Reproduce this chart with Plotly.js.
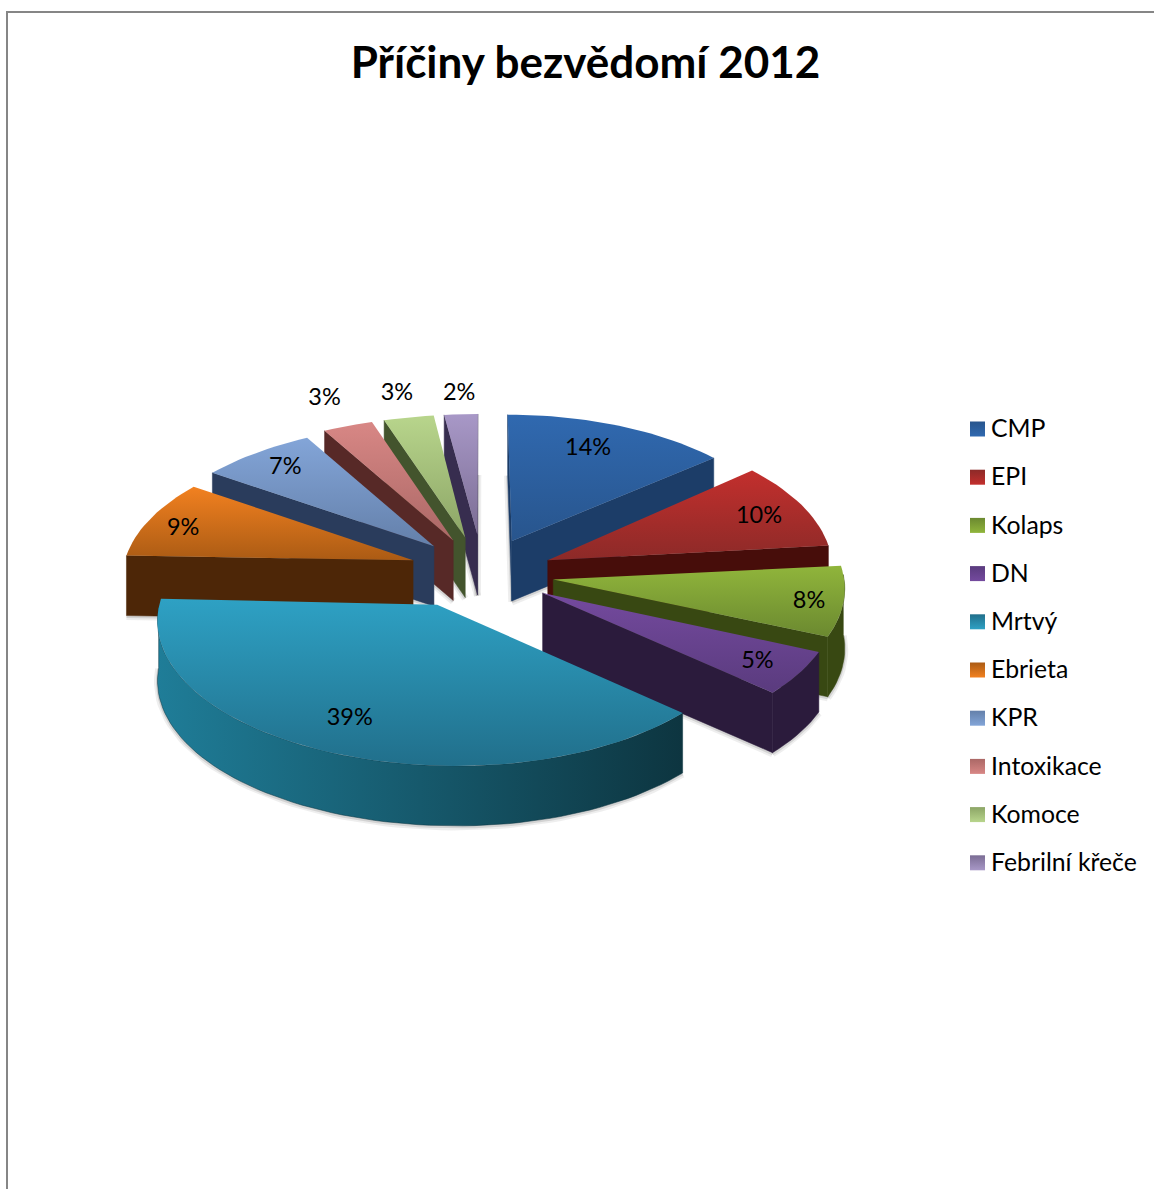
<!DOCTYPE html>
<html lang="cs">
<head>
<meta charset="utf-8">
<title>Příčiny bezvědomí 2012</title>
<script src="https://cdn.plot.ly/plotly-3.0.1.min.js"></script>
<style>html,body{margin:0;padding:0;background:#fff}#chart{width:1154px;height:1189px}</style>
</head>
<body>
<div id="chart"></div>
<script>
// Share of each cause, in percent
const categories = ["CMP","EPI","Kolaps","DN","Mrtvý","Ebrieta","KPR","Intoxikace","Komoce","Febrilní křeče"];
const shares = [14,10,8,5,39,9,7,3,3,2];

// Colours per slice: top face (upper, lower), outer walls (left, right)
const topLight = ["#3069b0","#c32f2d","#90b53b","#744a9e","#2ea1c4","#f28120","#83a5d8","#d88785","#b8d58c","#a898c7"];
const topDark  = ["#28558d","#8c2a28","#6b8930","#5a3b7e","#216f8b","#ab5b14","#6480aa","#ab6866","#8ca566","#7b6d94"];
const wallLeft  = ["#1c3d68","#470d0a","#384812","#2b1b3c","#1f7d98","#4d2607","#2a3c5c","#572927","#43542d","#372d4f"];
const wallRight = ["#1c3d68","#470d0a","#384812","#2b1b3c","#0d3540","#4d2607","#2a3c5c","#572927","#43542d","#372d4f"];

// Label placement around each slice tip: radius as a fraction of the pie, bearing in degrees
const labelRadius  = [0.81,0.84,0.885,0.83,0.78,0.86,0.85,1.29,1.25,1.21];
const labelBearing = [20.5,65.3,98.4,121.9,204.6,288.2,319.1,336.9,347.1,356.1];

// Slices are painted from the back of the pie to the front
const paintOrder = [9,8,7,6,5,0,1,2,3,4];

// View settings for the tilted pie
const centerX = 485, centerY = 575, radiusX = 285, radiusY = 140;
const perspective = 0.08, leftStretch = 1.035, explode = 0.25, thickness = 60;
const tipNudge = [[-3,-3],[-3,-2],[-2,-2],[-2,-2],[-18,-3],[-3,-3],[-3,-3],[-3,-3],[-4,-4],[-3,-6]];
const rimNudge = [[-5,-4],[-3,-8],[2,-7],[2,-6],[4,0],[1,1],[-2,0],[-3,-2],[-3,-2],[-3,-2]];
const textDrop = 2;

const rad = d => d * Math.PI / 180;
const project = (X, Y) => {
  const p = 1 / (1 + perspective * Y);
  return [centerX + radiusX * X * p * (X < 0 ? leftStretch : 1), centerY - radiusY * Y * p];
};

const total = shares.reduce((a, b) => a + b, 0);
let running = 0;
const slices = shares.map((v, i) => {
  const a0 = running / total * 360;
  running += v;
  const a1 = running / total * 360;
  const mid = (a0 + a1) / 2;
  return { i, a0, a1, mid, ox: explode * Math.sin(rad(mid)), oy: explode * Math.cos(rad(mid)) };
});

const polarPoint = (s, deg, r) => project(s.ox + r * Math.sin(rad(deg)), s.oy + r * Math.cos(rad(deg)));
const rimPoint = (s, deg) => {
  const q = polarPoint(s, deg, 1);
  return [q[0] + rimNudge[s.i][0], q[1] + rimNudge[s.i][1]];
};
const tipPoint = s => {
  const t = project(s.ox, s.oy);
  return [t[0] + tipNudge[s.i][0], t[1] + tipNudge[s.i][1]];
};
const arc = (s, from, to) => {
  const pts = [], n = Math.max(2, Math.ceil((to - from) / 2));
  for (let k = 0; k <= n; k++) pts.push(rimPoint(s, from + (to - from) * k / n));
  return pts;
};

const closed = pts => ({
  x: pts.map(p => p[0]).concat(pts[0][0]),
  y: pts.map(p => p[1]).concat(pts[0][1])
});
const polygon = (pts, fillgradient, line) => Object.assign({
  type: "scatter", mode: "lines", fill: "toself",
  fillgradient, line, hoverinfo: "skip", showlegend: false
}, closed(pts));
const shadowLine = (pts, color, width) => ({
  type: "scatter", mode: "lines",
  x: pts.map(p => p[0]), y: pts.map(p => p[1] + 1),
  line: { color, width }, hoverinfo: "skip", showlegend: false
});

const sideways = s => ({ type: "horizontal", colorscale: [[0, wallLeft[s.i]], [1, wallRight[s.i]]] });
// The y axis runs downwards, so the gradient stops are listed from the lower colour up
const downwards = s => ({ type: "vertical", colorscale: [[0, topDark[s.i]], [1, topLight[s.i]]] });
const wallEdge = s => ({ color: wallRight[s.i], width: 0.5 });
const noEdge = { color: "rgba(0,0,0,0)", width: 0 };
const dropDown = pts => pts.map(p => [p[0], p[1] + thickness]);

const traces = [];
paintOrder.forEach(idx => {
  const s = slices[idx], tip = tipPoint(s);
  const inner = polarPoint(s, s.mid, 0.5);
  const walls = [];
  // Radial walls show only when the slice lies above the edge on screen
  [s.a0, s.a1].forEach(deg => {
    const rim = rimPoint(s, deg);
    const run = rim[0] - tip[0];
    const at = Math.abs(run) < 1e-6 ? -Infinity : tip[1] + (rim[1] - tip[1]) * (inner[0] - tip[0]) / run;
    if (inner[1] < at) walls.push([tip, rim]);
  });
  // Outer wall: only the front half of the rim faces the viewer
  const from = Math.max(s.a0, 90), to = Math.min(s.a1, 270);
  if (to > from) walls.push(arc(s, from, to));
  // A soft shade along the bottom of the walls
  walls.forEach(edge => {
    const low = dropDown(edge);
    traces.push(shadowLine(low, "rgba(90,90,90,0.10)", 7));
    traces.push(shadowLine(low, "rgba(90,90,90,0.18)", 3));
  });
  walls.forEach(edge => {
    traces.push(polygon(edge.concat(dropDown(edge).reverse()), sideways(s), wallEdge(s)));
  });
  // Top face
  traces.push(polygon([tip].concat(arc(s, s.a0, s.a1)), downwards(s), noEdge));
});

// Percentage labels
const labelXY = slices.map((s, i) => polarPoint(s, labelBearing[i], labelRadius[i]));
traces.push({
  type: "scatter", mode: "text",
  x: labelXY.map(p => p[0]), y: labelXY.map(p => p[1] + textDrop),
  text: shares.map(v => v + "%"),
  textposition: "middle center",
  textfont: { family: "Lato, sans-serif", size: 23.5, color: "#000" },
  hoverinfo: "skip", showlegend: false
});

// Key on the right: coloured squares with a name beside each
const keyX = 977.5, keyTop = 429, keyStep = 48.2;
const keyY = categories.map((c, i) => keyTop + i * keyStep);
traces.push({
  type: "scatter", mode: "markers",
  x: categories.map(() => keyX), y: keyY,
  marker: {
    symbol: "square", size: 15, color: topDark,
    gradient: { type: "vertical", color: topLight }, line: { width: 0 }
  },
  hoverinfo: "skip", showlegend: false
});
traces.push({
  type: "scatter", mode: "text",
  x: categories.map(() => 991), y: keyY.map(v => v + textDrop), text: categories,
  textposition: "middle right",
  textfont: { family: "Lato, sans-serif", size: 24.8, color: "#000" },
  hoverinfo: "skip", showlegend: false
});

const frameColor = "#868686";
const layout = {
  width: 1154, height: 1189,
  margin: { l: 0, r: 0, t: 0, b: 0 },
  paper_bgcolor: "#fff", plot_bgcolor: "#fff",
  showlegend: false,
  title: {
    text: "<b>Příčiny bezvědomí 2012</b>",
    x: 585.5 / 1154, xanchor: "center", xref: "paper",
    y: 1 - 63 / 1189, yanchor: "middle", yref: "container",
    font: { family: "Lato, sans-serif", size: 44, color: "#000" }
  },
  xaxis: { range: [0, 1154], visible: false, fixedrange: true },
  yaxis: { range: [1189, 0], visible: false, fixedrange: true },
  shapes: [
    { type: "line", x0: 7, x1: 7, y0: 11, y1: 1189, line: { color: frameColor, width: 2 } },
    { type: "line", x0: 6, x1: 1154, y0: 12, y1: 12, line: { color: frameColor, width: 2 } }
  ]
};

Plotly.newPlot("chart", traces, layout, { staticPlot: true, displayModeBar: false });
</script>
</body>
</html>
